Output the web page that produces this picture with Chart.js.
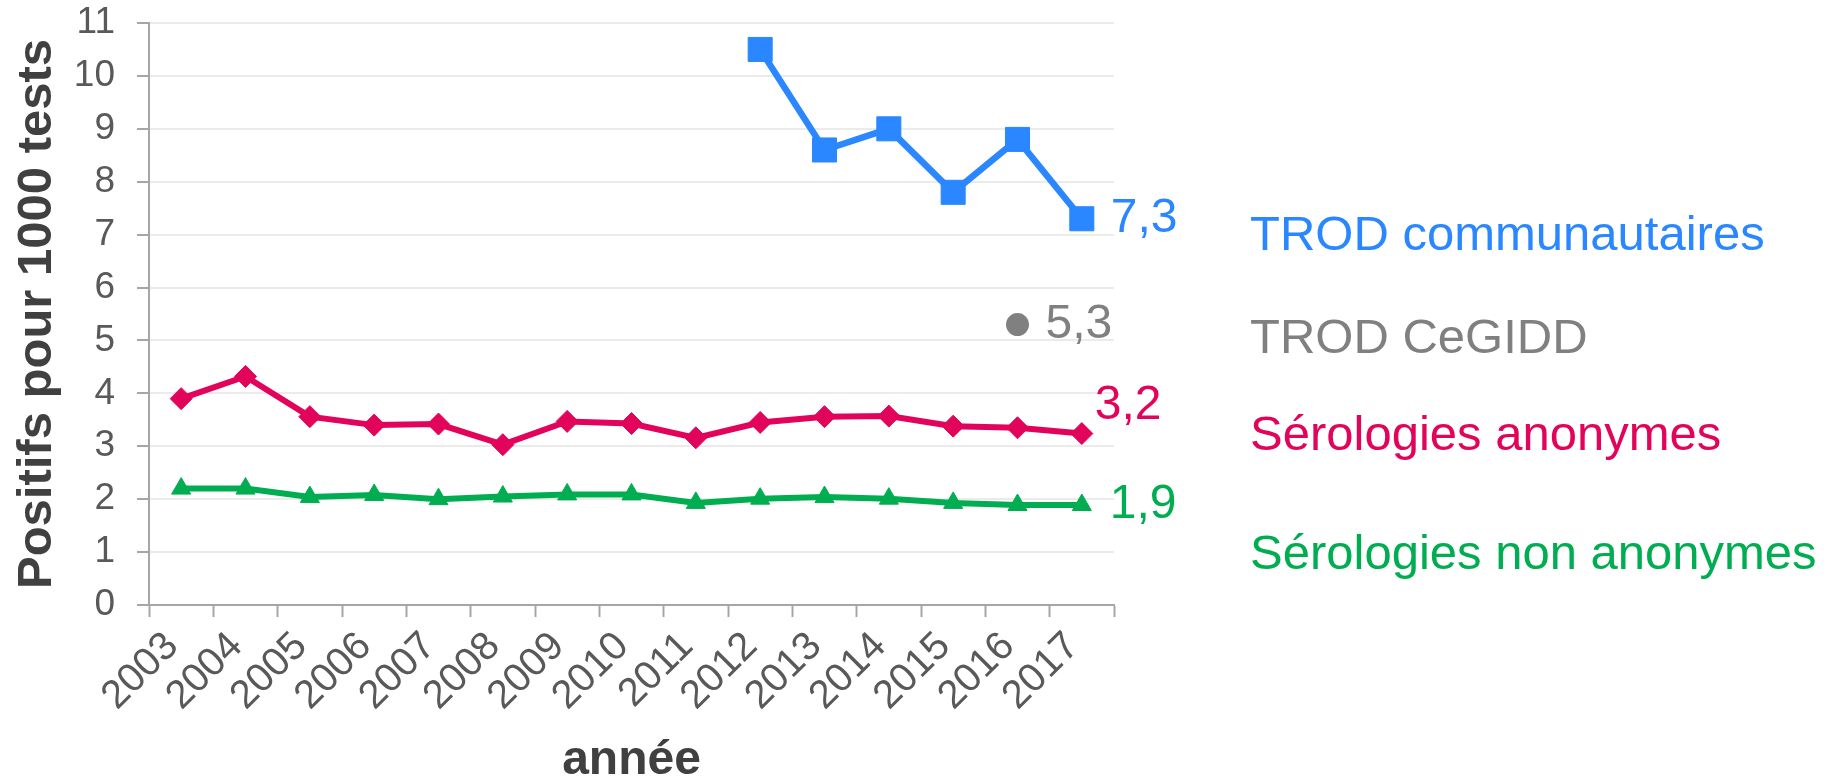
<!DOCTYPE html>
<html lang="fr">
<head>
<meta charset="utf-8">
<title>Positifs pour 1000 tests</title>
<script src="https://cdn.jsdelivr.net/npm/chart.js@4.4.1/dist/chart.umd.min.js"></script>
<style>
  html, body { margin: 0; padding: 0; background: #fff; }
  #cadre { width: 1838px; height: 777px; }
</style>
</head>
<body>
<div id="cadre"><canvas id="graphique"></canvas></div>
<script>
// Données (positifs pour 1000 tests)
const annees = ['2003', '2004', '2005', '2006', '2007', '2008', '2009', '2010',
                '2011', '2012', '2013', '2014', '2015', '2016', '2017'];
const trodCommunautaires = [null, null, null, null, null, null, null, null, null,
                            10.5, 8.6, 9.0, 7.8, 8.8, 7.3];
const trodCegidd = [null, null, null, null, null, null, null, null, null,
                    null, null, null, null, 5.3, null];
const serologiesAnonymes = [3.9, 4.32, 3.56, 3.4, 3.42, 3.03, 3.47, 3.43, 3.16,
                            3.45, 3.56, 3.57, 3.38, 3.35, 3.24];
const serologiesNonAnonymes = [2.2, 2.2, 2.04, 2.08, 2.0, 2.05, 2.09, 2.09, 1.93,
                               2.01, 2.04, 2.01, 1.93, 1.89, 1.89];
const nomsSeries = ['TROD communautaires', 'TROD CeGIDD', 'Sérologies anonymes', 'Sérologies non anonymes'];

// Couleurs
const couleurs = ['#2a87ff', '#808080', '#e2045a', '#00ad50'];

// Mise en page des étiquettes (pixels)
const decalagesFin = [[29, 0], [28, 0], [13, -28], [28, 0]];
const legendeX = 1250;
const legendeY = [236, 339, 436, 555];

const police = '"Liberation Sans", Arial, sans-serif';

// Plugin: valeur finale de chaque série + noms des séries à droite
const etiquettes = {
    id: 'etiquettes',
    afterDatasetsDraw(chart) {
        const ctx = chart.ctx;
        ctx.save();
        ctx.textAlign = 'left';
        ctx.textBaseline = 'middle';
        ctx.font = '48px ' + police;
        chart.data.datasets.forEach((ds, i) => {
            let dernier = -1;
            ds.data.forEach((v, j) => { if (v !== null) dernier = j; });
            if (dernier < 0) return;
            const pt = chart.getDatasetMeta(i).data[dernier];
            ctx.fillStyle = couleurs[i];
            ctx.fillText(ds.data[dernier].toFixed(1).replace('.', ','),
                pt.x + decalagesFin[i][0], pt.y + decalagesFin[i][1]);
        });
        ctx.font = '49px ' + police;
        chart.data.datasets.forEach((ds, i) => {
            ctx.fillStyle = couleurs[i];
            ctx.fillText(ds.label, legendeX, legendeY[i]);
        });
        ctx.restore();
    }
};

let ctx = document.getElementById('graphique').getContext('2d');
let chart = new Chart(ctx, {
    type: 'line',
    data: {
        labels: annees,
        datasets: [{
            label: nomsSeries[0],
            data: trodCommunautaires,
            borderColor: couleurs[0],
            backgroundColor: couleurs[0],
            borderWidth: 6.5,
            pointStyle: 'rect',
            pointRadius: 17,
            pointBorderWidth: 1
        }, {
            label: nomsSeries[1],
            data: trodCegidd,
            borderColor: couleurs[1],
            backgroundColor: couleurs[1],
            pointStyle: 'circle',
            pointRadius: 11.5,
            pointBorderWidth: 0
        }, {
            label: nomsSeries[2],
            data: serologiesAnonymes,
            borderColor: couleurs[2],
            backgroundColor: couleurs[2],
            borderWidth: 6,
            pointStyle: 'rectRot',
            pointRadius: 11,
            pointBorderWidth: 1
        }, {
            label: nomsSeries[3],
            data: serologiesNonAnonymes,
            borderColor: couleurs[3],
            backgroundColor: couleurs[3],
            borderWidth: 6,
            pointStyle: 'triangle',
            pointRadius: 11,
            pointBorderWidth: 1
        }]
    },
    options: {
        responsive: true,
        maintainAspectRatio: false,
        animation: false,
        layout: { padding: { left: 0, right: 724, top: 0, bottom: 0 } },
        plugins: {
            legend: { display: false },
            tooltip: { enabled: false }
        },
        scales: {
            x: {
                offset: true,
                afterFit: (scale) => { scale.height = 172; },
                grid: {
                    offset: true,
                    drawOnChartArea: false,
                    drawTicks: true,
                    tickLength: 12,
                    tickColor: '#a6a6a6',
                    tickWidth: 2
                },
                border: { color: '#a6a6a6', width: 2 },
                ticks: {
                    autoSkip: false,
                    maxRotation: 45,
                    minRotation: 45,
                    padding: 6,
                    labelOffset: -9,
                    color: '#595959',
                    font: { family: police, size: 40 }
                },
                title: {
                    display: true,
                    text: 'année',
                    color: '#404040',
                    font: { family: police, size: 48, weight: 'bold', lineHeight: 1 },
                    padding: { top: 0, bottom: -8 }
                }
            },
            y: {
                min: 0,
                max: 11,
                afterFit: (scale) => {
                    scale.width = 149;
                    scale.paddingTop = 23;
                },
                ticks: {
                    stepSize: 1,
                    padding: 22,
                    color: '#595959',
                    font: { family: police, size: 37 }
                },
                grid: {
                    color: '#ebebeb',
                    lineWidth: 2,
                    tickLength: 12,
                    tickColor: '#a6a6a6',
                    tickWidth: 2
                },
                border: { color: '#a6a6a6', width: 2 },
                title: {
                    display: true,
                    text: 'Positifs pour 1000 tests',
                    color: '#404040',
                    font: { family: police, size: 49, weight: 'bold', lineHeight: 1 },
                    padding: { top: 13, bottom: 0 }
                }
            }
        }
    },
    plugins: [etiquettes]
});
</script>
</body>
</html>
